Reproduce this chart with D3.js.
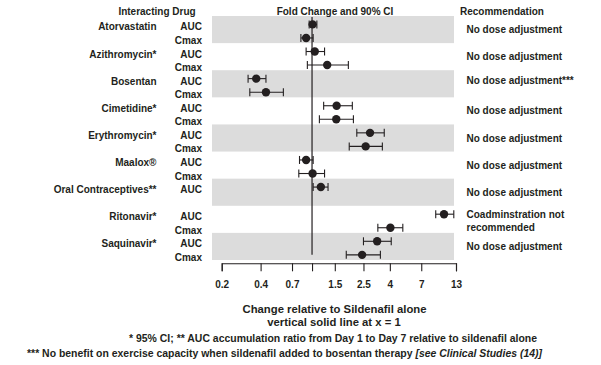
<!DOCTYPE html>
<html>
<head>
<meta charset="utf-8">
<script src="https://cdn.jsdelivr.net/npm/d3@7"></script>
<style>
  body { margin: 0; background: #fff; }
  svg text { font-family: "Liberation Sans", Arial, sans-serif; font-weight: bold; fill: #231f20; }
</style>
</head>
<body>
<svg id="chart" width="601" height="365"></svg>
<script>
// Interacting drugs (one group per drug)
var drugs = ["Atorvastatin", "Azithromycin*", "Bosentan", "Cimetidine*", "Erythromycin*",
  "Maalox\u00ae", "Oral Contraceptives**", "Ritonavir*", "Saquinavir*"];

// fold change and 90% CI, AUC
var aucPoint = [1.01, 1.05, 0.37, 1.55, 2.81, 0.90, 1.17, 10.5, 3.19];
var aucLow   = [0.95, 0.90, 0.32, 1.23, 2.22, 0.80, 1.02, 9.06, 2.50];
var aucHigh  = [1.09, 1.25, 0.44, 2.05, 3.62, 1.02, 1.33, 12.5, 4.10];

// fold change and 90% CI, Cmax (no Cmax for oral contraceptives)
var cmaxPoint = [0.90, 1.31, 0.44, 1.54, 2.60, 1.01, null, 4.04, 2.44];
var cmaxLow   = [0.82, 0.92, 0.33, 1.14, 1.94, 0.79, null, 3.23, 1.84];
var cmaxHigh  = [1.02, 1.91, 0.60, 2.09, 3.50, 1.25, null, 5.04, 3.38];

var recommendations = [
  ["No dose adjustment"], ["No dose adjustment"], ["No dose adjustment***"],
  ["No dose adjustment"], ["No dose adjustment"], ["No dose adjustment"],
  ["No dose adjustment"], ["Coadminstration not", "recommended"], ["No dose adjustment"]];

var tickValues = [0.2, 0.4, 0.7, 1, 1.5, 2.5, 4, 7, 13];
var tickLabels = ["0.2", "0.4", "0.7", "", "1.5", "2.5", "4", "7", "13"];

var svg = d3.select("#chart");

var x = d3.scaleLog().domain([0.2, 13]).range([221.7, 456]);
var y = d3.scaleBand().domain(drugs).range([16, 260]);
var bw = y.bandwidth();

function rowY(d, k) { return y(d) + bw * (k === 0 ? 0.31 : 0.81); }

// rows: one per measure that exists
var rows = [];
drugs.forEach(function (d, i) {
  rows.push({ drug: d, k: 0, label: "AUC", p: aucPoint[i], lo: aucLow[i], hi: aucHigh[i] });
  if (cmaxPoint[i] != null)
    rows.push({ drug: d, k: 1, label: "Cmax", p: cmaxPoint[i], lo: cmaxLow[i], hi: cmaxHigh[i] });
});

// shaded bands
svg.append("g").selectAll("rect")
  .data(drugs.filter(function (d, i) { return i % 2 === 0; }))
  .enter().append("rect")
  .attr("x", x.range()[0] - 9.7)
  .attr("width", x.range()[1] - 2 - (x.range()[0] - 9.7))
  .attr("y", function (d) { return y(d); })
  .attr("height", bw)
  .attr("fill", "#dcdcdc");

// headers
svg.append("text").attr("x", 157).attr("y", 15).attr("text-anchor", "middle")
  .style("font-size", "10px").text("Interacting Drug");
svg.append("text").attr("x", 335).attr("y", 15).attr("text-anchor", "middle")
  .style("font-size", "10px").text("Fold Change and 90% CI");
svg.append("text").attr("x", 460).attr("y", 15)
  .style("font-size", "10px").text("Recommendation");

// drug names
svg.append("g").selectAll("text")
  .data(drugs).enter().append("text")
  .attr("x", 156.5)
  .attr("y", function (d) { return rowY(d, 0) + 2.5; })
  .attr("dy", "0.35em")
  .attr("text-anchor", "end")
  .style("font-size", "10px")
  .text(function (d) { return d; });

// AUC / Cmax labels
svg.append("g").selectAll("text")
  .data(rows).enter().append("text")
  .attr("x", 202)
  .attr("y", function (d) { return rowY(d.drug, d.k) + 2.5; })
  .attr("dy", "0.35em")
  .attr("text-anchor", "end")
  .style("font-size", "10px")
  .text(function (d) { return d.label; });

// reference line at x = 1
svg.append("line")
  .attr("x1", x(1)).attr("x2", x(1))
  .attr("y1", y.range()[0] + 1)
  .attr("y2", rowY(drugs[drugs.length - 1], 1))
  .attr("stroke", "#231f20").attr("stroke-width", 1.2);

// CI whiskers and points
var marks = svg.append("g").selectAll("g")
  .data(rows).enter().append("g")
  .attr("transform", function (d) { return "translate(0," + rowY(d.drug, d.k) + ")"; });

marks.append("line")
  .attr("x1", function (d) { return x(d.lo); })
  .attr("x2", function (d) { return x(d.hi); })
  .attr("stroke", "#231f20").attr("stroke-width", 1.1);
marks.selectAll(".cap")
  .data(function (d) { return [d.lo, d.hi]; })
  .enter().append("line")
  .attr("class", "cap")
  .attr("x1", function (v) { return x(v); })
  .attr("x2", function (v) { return x(v); })
  .attr("y1", -4).attr("y2", 4)
  .attr("stroke", "#231f20").attr("stroke-width", 1.1);
marks.append("circle")
  .attr("cx", function (d) { return x(d.p); })
  .attr("r", 4.2)
  .attr("fill", "#231f20");

// recommendations
drugs.forEach(function (d, i) {
  var lines = recommendations[i];
  lines.forEach(function (t, j) {
    var yy;
    if (lines.length > 1) yy = rowY(d, j);
    else if (i === 2) yy = rowY(d, 0) + 1.5;
    else yy = y(d) + bw / 2;
    svg.append("text")
      .attr("x", 466.5).attr("y", yy).attr("dy", "0.35em")
      .style("font-size", "10px")
      .text(t);
  });
});

// x axis
var axis = svg.append("g")
  .attr("transform", "translate(0,263.3)")
  .call(d3.axisBottom(x)
    .tickValues(tickValues)
    .tickFormat(function (d, i) { return tickLabels[i]; })
    .tickSize(8)
    .tickSizeOuter(8)
    .tickPadding(10));
axis.selectAll("path, line").attr("stroke", "#231f20").attr("stroke-width", 1.1);
axis.selectAll("text")
  .style("font-family", "'Liberation Sans', Arial, sans-serif")
  .style("font-weight", "bold")
  .style("font-size", "10px")
  .attr("fill", "#231f20");

// axis titles and footnotes
svg.append("text").attr("x", 334.5).attr("y", 313).attr("text-anchor", "middle")
  .style("font-size", "11.3px").text("Change relative to Sildenafil alone");
svg.append("text").attr("x", 334).attr("y", 326).attr("text-anchor", "middle")
  .style("font-size", "11.3px").text("vertical solid line at x = 1");
svg.append("text").attr("x", 129).attr("y", 342)
  .attr("textLength", 408).attr("lengthAdjust", "spacingAndGlyphs")
  .style("font-size", "10.5px")
  .text("* 95% CI; ** AUC accumulation ratio from Day 1 to Day 7 relative to sildenafil alone");
var fn = svg.append("text").attr("x", 27).attr("y", 357)
  .attr("textLength", 515).attr("lengthAdjust", "spacingAndGlyphs")
  .style("font-size", "10.5px");
fn.append("tspan").text("*** No benefit on exercise capacity when sildenafil added to bosentan therapy ");
fn.append("tspan").style("font-style", "italic").text("[see Clinical Studies (14)]");
</script>
</body>
</html>
